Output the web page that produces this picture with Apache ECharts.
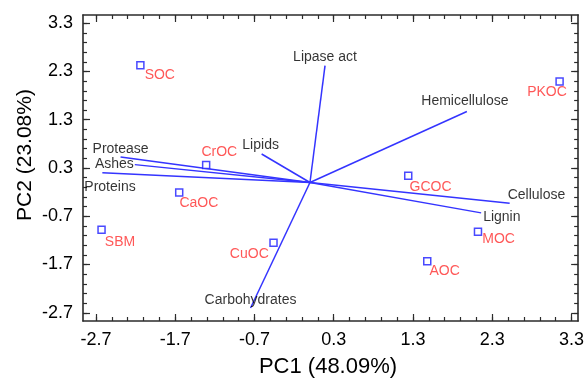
<!DOCTYPE html>
<html>
<head>
<meta charset="utf-8">
<script src="https://cdn.jsdelivr.net/npm/echarts@6/dist/echarts.min.js"></script>
<style>
  html, body { margin: 0; background: #fff; }
  #chart { width: 587px; height: 380px; }
</style>
</head>
<body>
<div id="chart"></div>
<script>
// sample scores
const sampleNames = ['SOC', 'CrOC', 'CaOC', 'SBM', 'CuOC', 'GCOC', 'MOC', 'AOC', 'PKOC'];
const samplePC1 = [-2.14, -1.31, -1.65, -2.63, -0.46, 1.24, 2.12, 1.48, 3.15];
const samplePC2 = [2.43, 0.36, -0.21, -0.98, -1.25, 0.14, -1.02, -1.63, 2.09];

// loading vectors (end points, all start at the origin)
const varNames = ['Lipase act', 'Hemicellulose', 'Cellulose', 'Lignin', 'Carbohydrates', 'Lipids', 'Protease', 'Ashes', 'Proteins'];
const varPC1 = [0.19, 1.98, 2.52, 2.16, -0.75, -0.61, -2.39, -2.21, -2.62];
const varPC2 = [2.42, 1.47, -0.43, -0.63, -2.60, 0.59, 0.53, 0.37, 0.20];

const tickLabels = [-2.7, -1.7, -0.7, 0.3, 1.3, 2.3, 3.3];

// label placement: [align, dx, dy] in px from the point
const sampleLabelPos = {
  SOC: ['left', 5, 11], CrOC: ['left', -4, -12], CaOC: ['left', 1, 11],
  SBM: ['left', 4, 13], CuOC: ['right', -4, 12], GCOC: ['left', 2, 12],
  MOC: ['left', 5, 8], AOC: ['left', 3, 11], PKOC: ['right', 8, 11]
};
const varLabelPos = {
  'Lipase act': ['center', 0, -9], Hemicellulose: ['center', -2, -10],
  Cellulose: ['left', -2, -8], Lignin: ['left', 2, 4], Carbohydrates: ['center', 0, -8],
  Lipids: ['center', -1, -9], Protease: ['center', 0, -8], Ashes: ['right', -1, 0],
  Proteins: ['left', -18, 14]
};

const FONT = 'Liberation Sans, Arial, sans-serif';
const xRange = [-2.864, 3.384];
const yRange = [-2.87, 3.47];

const minorTicks = [];
for (let v = -2.7; v < 3.35; v += 0.2) minorTicks.push(+v.toFixed(1));

function makeAxis(pos, range, ticks, len, labels, line) {
  return {
    type: 'value',
    position: pos,
    min: range[0],
    max: range[1],
    splitLine: { show: false },
    axisLine: { show: line, onZero: false, lineStyle: { color: '#2b2b2b', width: 1.6 } },
    axisTick: { show: true, inside: true, length: len, customValues: ticks, lineStyle: { color: '#2b2b2b', width: 1.2 } },
    axisLabel: {
      show: labels, customValues: tickLabels, margin: 10,
      color: '#000', fontSize: 18, fontFamily: FONT,
      formatter: v => v.toFixed(1)
    }
  };
}

const chart = echarts.init(document.getElementById('chart'));

chart.setOption({
  backgroundColor: '#fff',
  animation: false,
  grid: { left: 83, right: 8, top: 15, bottom: 59 },
  xAxis: [
    makeAxis('bottom', xRange, tickLabels, 7, true, true),
    makeAxis('bottom', xRange, minorTicks, 4, false, false),
    makeAxis('top', xRange, tickLabels, 7, false, true),
    makeAxis('top', xRange, minorTicks, 4, false, false)
  ],
  yAxis: [
    makeAxis('left', yRange, tickLabels, 7, true, true),
    makeAxis('left', yRange, minorTicks, 4, false, false),
    makeAxis('right', yRange, tickLabels, 7, false, true),
    makeAxis('right', yRange, minorTicks, 4, false, false)
  ],
  graphic: [
    {
      type: 'text', x: 328, y: 367,
      style: { text: 'PC1 (48.09%)', font: '22px ' + FONT, fill: '#000', textAlign: 'center', textVerticalAlign: 'middle' }
    },
    {
      type: 'text', x: 25, y: 155, rotation: Math.PI / 2,
      style: { text: 'PC2 (23.08%)', font: '21px ' + FONT, fill: '#000', textAlign: 'center', textVerticalAlign: 'middle' }
    }
  ],
  series: [
    {
      type: 'custom',
      name: 'vectors',
      data: varNames.map((n, i) => [varPC1[i], varPC2[i]]),
      renderItem: function (params, api) {
        const o = api.coord([0, 0]);
        const p = api.coord([api.value(0), api.value(1)]);
        return {
          type: 'line',
          shape: { x1: o[0], y1: o[1], x2: p[0], y2: p[1] },
          style: { stroke: '#3434ff', lineWidth: 1.5 }
        };
      }
    },
    {
      type: 'scatter',
      name: 'varLabels',
      symbolSize: 1,
      itemStyle: { color: 'rgba(0,0,0,0)' },
      data: varNames.map((n, i) => {
        const lp = varLabelPos[n];
        return {
          name: n,
          value: [varPC1[i], varPC2[i]],
          label: {
            show: true, formatter: n, position: [lp[1] + 0.5, lp[2] + 0.5],
            align: lp[0], verticalAlign: 'middle',
            color: '#000', fontSize: 14, fontFamily: FONT
          }
        };
      })
    },
    {
      type: 'scatter',
      name: 'samples',
      symbol: 'rect',
      symbolSize: 7,
      itemStyle: { color: '#fff', borderColor: '#1c1cff', borderWidth: 1.5 },
      data: sampleNames.map((n, i) => {
        const lp = sampleLabelPos[n];
        return {
          name: n,
          value: [samplePC1[i], samplePC2[i]],
          label: {
            show: true, formatter: n, position: [lp[1] + 3.5, lp[2] + 3.5],
            align: lp[0], verticalAlign: 'middle',
            color: '#ff2d2d', fontSize: 14, fontFamily: FONT
          }
        };
      })
    }
  ]
});
</script>
</body>
</html>
